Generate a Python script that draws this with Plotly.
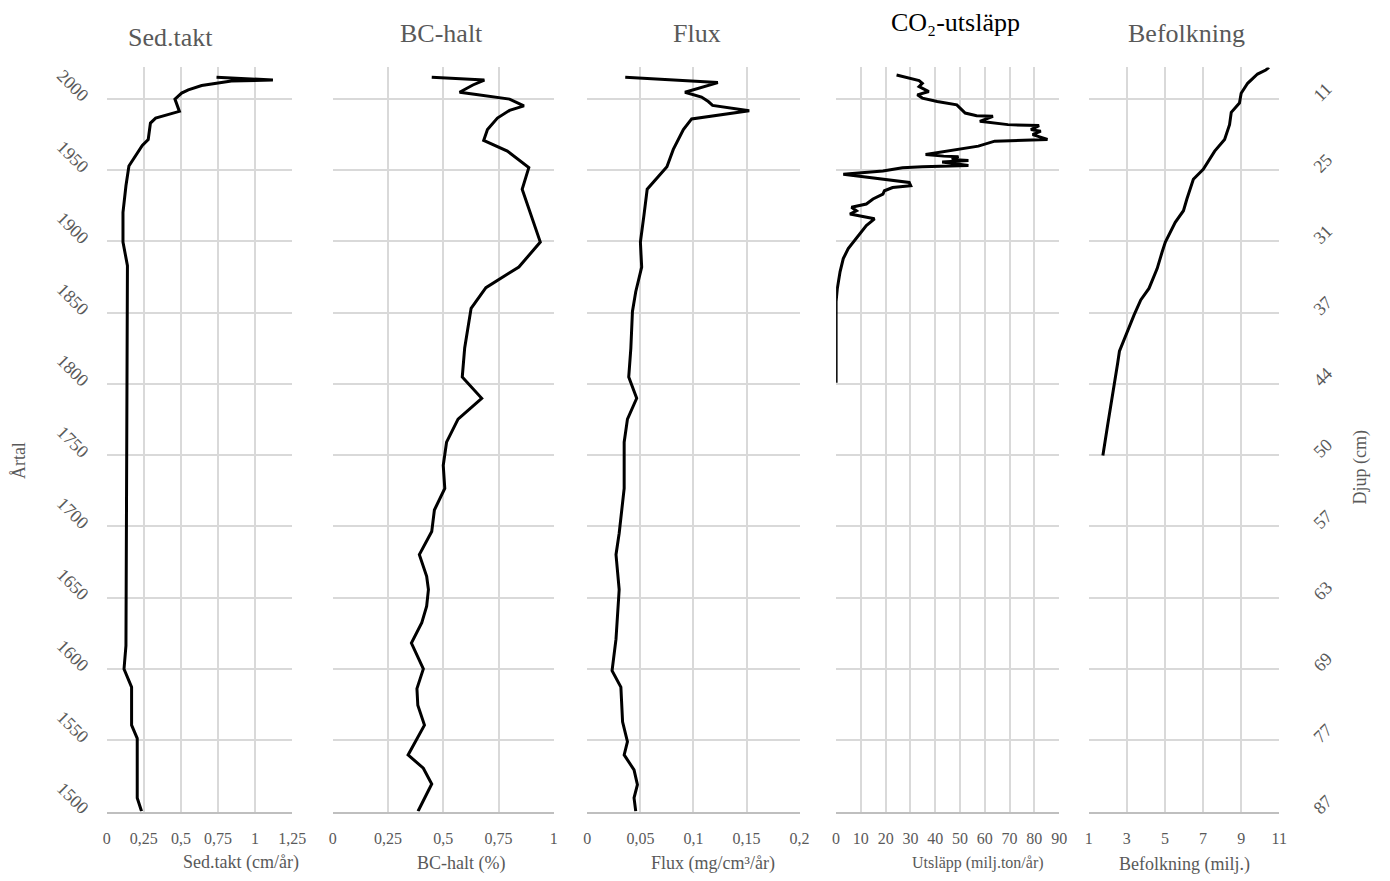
import plotly.graph_objects as go

W, H = 1390, 881

# ---------------- data ----------------
years_ticks = [1500, 1550, 1600, 1650, 1700, 1750, 1800, 1850, 1900, 1950, 2000]
depth_labels = ["87", "77", "69", "63", "57", "50", "44", "37", "31", "25", "11"]

sed_year = [2015.1, 2013.2, 2012.5, 2009.3, 2006.3, 2004.0, 1999.8, 1991.2, 1986.5, 1983.0,
            1971.5, 1967.3, 1952.9, 1939.0, 1920.4, 1899.5, 1883.0, 1616.3, 1600.0, 1587.3,
            1560.6, 1551.3, 1509.5, 1500.2]
sed_val = [0.74, 1.12, 0.84, 0.64, 0.55, 0.505, 0.46, 0.49, 0.33, 0.295,
           0.28, 0.24, 0.15, 0.13, 0.11, 0.11, 0.14, 0.13, 0.117, 0.168,
           0.168, 0.206, 0.206, 0.235]

bc_year = [2015.1, 2013.2, 2009.7, 2004.6, 2003.2, 1999.8, 1995.1, 1991.9, 1986.5, 1978.4,
           1970.8, 1963.3, 1951.7, 1936.6, 1899.5, 1882.0, 1867.5, 1853.0, 1825.2, 1804.8,
           1789.9, 1775.3, 1759.1, 1742.8, 1726.6, 1711.5, 1696.4, 1680.2, 1665.0, 1655.7,
           1644.1, 1632.5, 1618.2, 1600.0, 1586.2, 1574.5, 1560.6, 1539.7, 1530.4, 1519.3,
           1500.2]
bc_val = [0.448, 0.686, 0.634, 0.574, 0.641, 0.80, 0.865, 0.80, 0.745, 0.70,
          0.683, 0.79, 0.887, 0.857, 0.939, 0.842, 0.693, 0.626, 0.597, 0.586,
          0.674, 0.567, 0.515, 0.50, 0.507, 0.46, 0.448, 0.392, 0.425, 0.433,
          0.425, 0.403, 0.356, 0.41, 0.381, 0.385, 0.415, 0.341, 0.41, 0.448,
          0.386]

flux_year = [2015.1, 2011.4, 2004.6, 2001.2, 1998.1, 1995.4, 1991.6, 1985.9, 1978.4, 1964.5,
             1952.4, 1936.6, 1918.1, 1899.5, 1882.0, 1864.7, 1850.8, 1825.0, 1804.8, 1789.9,
             1775.3, 1759.1, 1726.6, 1695.2, 1680.2, 1665.0, 1655.7, 1620.9, 1598.8, 1587.3,
             1562.9, 1549.0, 1539.7, 1529.2, 1518.8, 1509.5, 1500.2]
flux_val = [0.0357, 0.123, 0.092, 0.1076, 0.114, 0.118, 0.1526, 0.0983, 0.0905, 0.081,
            0.075, 0.0564, 0.0533, 0.050, 0.0512, 0.0456, 0.0425, 0.041, 0.039, 0.0465,
            0.0378, 0.0347, 0.0347, 0.030, 0.027, 0.0285, 0.030, 0.027, 0.0233, 0.0316,
            0.0332, 0.0378, 0.0347, 0.044, 0.0472, 0.044, 0.0456]

co2_year = [2016.7, 2015.6, 2014.4, 2012.8, 2010.9, 2008.6, 2005.1, 2002.8, 2000.5, 1998.1,
            1995.8, 1992.3, 1990.0, 1988.2, 1987.7, 1984.2, 1981.9, 1981.2, 1978.4, 1977.3,
            1974.9, 1971.5, 1970.8, 1970.3, 1966.8, 1964.0, 1961.0, 1959.8, 1959.4, 1957.5,
            1956.8, 1955.7, 1953.3, 1952.4, 1951.7, 1949.4, 1947.1, 1944.8, 1941.3, 1939.0,
            1937.8, 1935.5, 1933.2, 1929.7, 1926.2, 1923.9, 1921.5, 1919.2, 1915.8, 1911.1,
            1905.3, 1900.6, 1894.9, 1887.9, 1878.6, 1867.0, 1857.7, 1800.8]
co2_val = [24.4, 26.8, 30.1, 33.5, 34.8, 33.5, 37.4, 32.8, 34.8, 40.8,
           48.7, 50.7, 52.1, 56.7, 63.3, 58.0, 69.3, 81.9, 78.6, 82.6,
           79.3, 85.3, 76.0, 64.0, 57.4, 46.7, 36.1, 43.4, 49.4, 46.7,
           53.4, 42.8, 53.4, 34.8, 26.8, 18.9, 2.9, 13.5, 29.5, 30.1,
           22.8, 19.5, 18.9, 14.9, 12.2, 6.2, 8.2, 5.6, 15.5, 12.2,
           9.6, 7.6, 4.9, 2.9, 1.6, 0.5, 0.0, 0.0]

pop_year = [2022.1, 2020.2, 2017.4, 2010.9, 2003.9, 1997.0, 1990.5, 1981.9, 1971.5, 1963.3,
            1950.6, 1943.6, 1929.7, 1921.5, 1913.4, 1899.5, 1892.5, 1880.9, 1867.0, 1858.9,
            1848.4, 1834.5, 1822.9, 1814.8, 1799.7, 1785.7, 1771.8, 1749.8]
pop_val = [10.46, 10.29, 9.86, 9.34, 9.0, 8.91, 8.48, 8.39, 8.13, 7.61,
           7.01, 6.49, 6.15, 5.97, 5.54, 5.02, 4.85, 4.59, 4.16, 3.73,
           3.38, 2.95, 2.61, 2.52, 2.35, 2.17, 2.0, 1.74]

panel_titles = ["Sed.takt", "BC-halt", "Flux", "CO\u2082-utsläpp", "Befolkning"]
axis_titles = ["Sed.takt (cm/år)", "BC-halt (%)", "Flux (mg/cm\u00b3/år)",
               "Utsläpp (milj.ton/år)", "Befolkning (milj.)"]

sed_ticks = [0, 0.25, 0.5, 0.75, 1, 1.25]
sed_ticktext = ["0", "0,25", "0,5", "0,75", "1", "1,25"]
bc_ticks = [0, 0.25, 0.5, 0.75, 1]
bc_ticktext = ["0", "0,25", "0,5", "0,75", "1"]
flux_ticks = [0, 0.05, 0.1, 0.15, 0.2]
flux_ticktext = ["0", "0,05", "0,1", "0,15", "0,2"]
co2_ticks = [0, 10, 20, 30, 40, 50, 60, 70, 80, 90]
co2_ticktext = [str(v) for v in co2_ticks]
pop_ticks = [1, 3, 5, 7, 9, 11]
pop_ticktext = [str(v) for v in pop_ticks]

# ---------------- layout helpers ----------------
FONT = "Liberation Serif"
GRAY = "#595959"
GRID = "#d9d9d9"

def px(x):
    return x / W

def py(y):
    return 1 - y / H

panel_px = [(104, 292), (333, 557), (591, 806), (843, 1069), (1099, 1292)]
y_top_px, y_bot_px = 67, 817
ydom = [py(y_bot_px), py(y_top_px)]

series = [
    (sed_val, sed_year, [0, 1.25], sed_ticks, sed_ticktext),
    (bc_val, bc_year, [0, 1], bc_ticks, bc_ticktext),
    (flux_val, flux_year, [0, 0.2], flux_ticks, flux_ticktext),
    (co2_val, co2_year, [0, 90], co2_ticks, co2_ticktext),
    (pop_val, pop_year, [1, 11], pop_ticks, pop_ticktext),
]

fig = go.Figure()
layout = dict(
    autosize=True, margin=dict(l=0, r=0, t=0, b=0),
    paper_bgcolor="white", plot_bgcolor="white", showlegend=False,
    font=dict(family=FONT, color=GRAY),
)

for i, (xv, yv, xr, tv, tt) in enumerate(series, start=1):
    sfx = "" if i == 1 else str(i)
    fig.add_trace(go.Scatter(x=xv, y=yv, mode="lines",
                             line=dict(color="black", width=3),
                             xaxis="x" + sfx, yaxis="y" + sfx,
                             hoverinfo="skip"))
    x0, x1 = panel_px[i - 1]
    layout["xaxis" + sfx] = dict(
        domain=[px(x0), px(x1)], anchor="y" + sfx, range=xr,
        tickmode="array", tickvals=tv, ticktext=tt,
        showgrid=True, gridcolor=GRID, gridwidth=2,
        showline=True, linecolor="#bfbfbf", linewidth=2,
        zeroline=False, ticks="", tickfont=dict(size=16, color=GRAY, family=FONT),
        ticklabelstandoff=11, fixedrange=True,
    )
    yax = dict(
        domain=ydom, anchor="x" + sfx, range=[1500, 2022],
        tickmode="array", tickvals=years_ticks,
        showgrid=True, gridcolor=GRID, gridwidth=2,
        showline=False, zeroline=False, ticks="",
        tickfont=dict(size=18, color=GRAY, family=FONT), fixedrange=True,
    )
    if i == 1:
        yax.update(showticklabels=True, tickangle=45, ticklabelstandoff=18)
    elif i == 5:
        yax.update(showticklabels=True, side="right", ticktext=depth_labels,
                   tickangle=-45, ticklabelstandoff=34)
    else:
        yax.update(showticklabels=False)
    layout["yaxis" + sfx] = yax

annotations = []
title_pos = [(169, 37), (443, 33), (702, 33), (964, 22), (1198, 33)]
for (tx, ty), t in zip(title_pos, panel_titles):
    col = "black" if "CO" in t else GRAY
    annotations.append(dict(text=t, x=px(tx), y=py(ty), xref="paper", yref="paper",
                            xanchor="center", yanchor="middle", showarrow=False,
                            font=dict(size=26, color=col, family=FONT)))
axis_pos = [(240, 868), (463, 869), (718, 869), (987, 869), (1196, 870)]
for (tx, ty), t in zip(axis_pos, axis_titles):
    annotations.append(dict(text=t, x=px(tx), y=py(ty), xref="paper", yref="paper",
                            xanchor="center", yanchor="middle", showarrow=False,
                            font=dict(size=18 if "Utsl" not in t else 16, color=GRAY, family=FONT)))
annotations.append(dict(text="Årtal", x=px(16), y=py(463), xref="paper", yref="paper",
                        xanchor="center", yanchor="middle", showarrow=False, textangle=-90,
                        font=dict(size=18, color=GRAY, family=FONT)))
annotations.append(dict(text="Djup (cm)", x=px(1374), y=py(470), xref="paper", yref="paper",
                        xanchor="center", yanchor="middle", showarrow=False, textangle=-90,
                        font=dict(size=18, color=GRAY, family=FONT)))
layout["annotations"] = annotations

fig.update_layout(**layout)
fig.write_html(
    "out.html", config={"displayModeBar": False, "responsive": True},
    default_width="100vw", default_height="100vh",
    post_script=("document.documentElement.style.margin='0';"
                 "document.documentElement.style.overflow='hidden';"
                 "document.body.style.margin='0';"
                 "document.body.style.overflow='hidden';"
                 "Plotly.Plots.resize(document.getElementById('{plot_id}'));"),
)
